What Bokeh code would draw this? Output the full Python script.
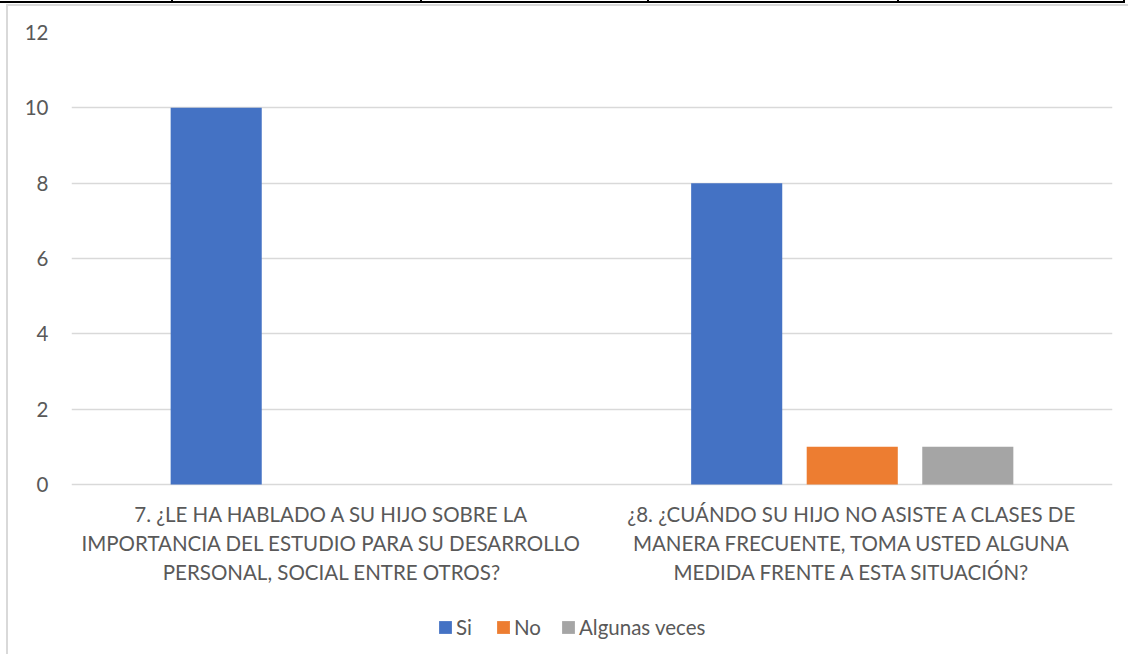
from bokeh.plotting import figure
from bokeh.models import ColumnDataSource, FactorRange, Legend, LegendItem
from bokeh.transform import dodge
from bokeh.core.properties import value
from bokeh.embed import file_html
from bokeh.resources import INLINE

categories = [
    "7. ¿LE HA HABLADO A SU HIJO SOBRE LA\nIMPORTANCIA DEL ESTUDIO PARA SU DESARROLLO\nPERSONAL, SOCIAL ENTRE OTROS?",
    "¿8. ¿CUÁNDO SU HIJO NO ASISTE A CLASES DE\nMANERA FRECUENTE, TOMA USTED ALGUNA\nMEDIDA FRENTE A ESTA SITUACIÓN?",
]
si = [10, 8]
no = [0, 1]
algunas = [0, 1]
series_names = ["Si", "No", "Algunas veces"]
colors = ["#4472C4", "#ED7D31", "#A5A5A5"]
y_ticks = [0, 2, 4, 6, 8, 10, 12]

FONT = "Lato"
TXT = "#595959"

source = ColumnDataSource(dict(cat=categories, si=si, no=no, alg=algunas))

W, H = 1128, 654
LEFT, RIGHT, TOP, BOTTOM = 71, 16, 32, 8
ZERO_PX = 484
PX_PER_UNIT = (ZERO_PX - TOP) / 12.0
y_start = -(H - BOTTOM - ZERO_PX) / PX_PER_UNIT

p = figure(x_range=FactorRange(factors=categories, range_padding=0), y_range=(y_start, 12),
           width=W, height=H, output_backend="svg", toolbar_location=None,
           min_border_left=LEFT, min_border_right=RIGHT, min_border_top=TOP, min_border_bottom=BOTTOM)
p.border_fill_color = "#ffffff"
p.background_fill_color = "#ffffff"

# page decoration (document table line and chart border) as overlays on the figure's host
imgs, poss, sizes = [], [], []
imgs.append("linear-gradient(#000,#000)"); poss.append("0px 1px"); sizes.append("1125px 2px")
for tx in [171, 420, 647, 897, 1123]:
    imgs.append("linear-gradient(#000,#000)"); poss.append(f"{tx}px 0px"); sizes.append("2px 3px")
css = (
    ":host { position: relative; }\n"
    ":host::before { content: ''; position: absolute; left: 0; top: 0; width: 1126px; height: 3px;"
    " z-index: 100; pointer-events: none;"
    f" background-image: {', '.join(imgs)}; background-position: {', '.join(poss)};"
    f" background-size: {', '.join(sizes)}; background-repeat: no-repeat; }}\n"
    ":host::after { content: ''; position: absolute; left: 6px; top: 4px; width: 1122px; height: 650px;"
    " border-left: 2px solid #d9d9d9; border-top: 2px solid #d9d9d9; box-sizing: border-box;"
    " z-index: 100; pointer-events: none; }\n"
)
p.stylesheets = [css]

offsets = [-0.222, 0.0, 0.222]
fields = ["si", "no", "alg"]
rends = []
for f, off, c in zip(fields, offsets, colors):
    r = p.vbar(x=dodge("cat", off, range=p.x_range), top=f, width=0.175, source=source,
               fill_color=c, line_color=None)
    rends.append(r)

# category labels under the baseline
p.text(x="cat", y=-0.475, text="cat", source=source, text_align="center", text_baseline="top",
       text_font=value(FONT), text_font_size="20.5px", text_color=TXT, text_line_height=1.19)

legend = Legend(items=[LegendItem(label=n, renderers=[r]) for n, r in zip(series_names, rends)],
                orientation="horizontal", location=(366, 7),
                glyph_width=16, glyph_height=16, label_standoff=3, spacing=19,
                padding=0, margin=0, border_line_alpha=0, background_fill_alpha=0,
                label_text_font=FONT, label_text_font_size="20.5px", label_text_color=TXT)
p.add_layout(legend, "center")

p.xaxis.visible = False
p.yaxis.ticker = y_ticks
p.yaxis.axis_line_color = None
p.yaxis.major_tick_line_color = None
p.yaxis.minor_tick_line_color = None
p.yaxis.major_label_standoff = 17
p.yaxis.major_label_text_font = FONT
p.yaxis.major_label_text_font_size = "20.5px"
p.yaxis.major_label_text_color = TXT

p.xgrid.grid_line_color = None
p.ygrid.ticker = y_ticks
p.ygrid.grid_line_color = "#d9d9d9"
p.ygrid.grid_line_width = 1.5
p.outline_line_color = None

open("out.html", "w").write(file_html(p, INLINE))
